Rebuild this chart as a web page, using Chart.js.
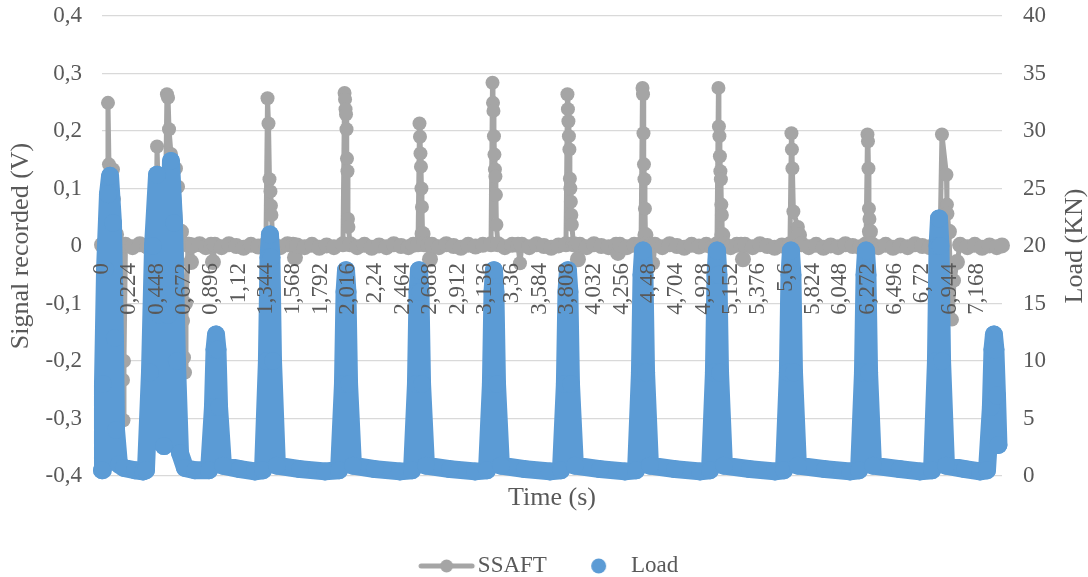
<!DOCTYPE html>
<html>
<head>
<meta charset="utf-8">
<script src="https://cdn.jsdelivr.net/npm/chart.js@4.4.1/dist/chart.umd.min.js"></script>
<style>
  html, body { margin: 0; padding: 0; background: #fff; }
</style>
</head>
<body>
<canvas id="myChart" width="1088" height="577"></canvas>
<script>
'use strict'
// time (s) and signal (V)
var ssaftSamples = [
    [0.000, 0.002], [0.020, -0.002], [0.033, 0.001],
    [0.041, 0.010], [0.049, 0.249], [0.057, 0.142], [0.066, 0.063], [0.074, 0.112], [0.082, 0.091], [0.090, 0.133], [0.098, 0.082], [0.115, 0.020],
    [0.135, -0.002], [0.160, 0.000], [0.172, -0.233], [0.176, -0.303], [0.180, -0.200], [0.192, 0.002],
    [0.250, -0.002], [0.310, 0.003], [0.370, -0.001], [0.420, 0.003],
    [0.442, 0.008], [0.451, 0.173], [0.459, 0.100], [0.475, 0.010], [0.495, -0.002],
    [0.516, 0.012], [0.532, 0.264], [0.541, 0.258], [0.549, 0.203], [0.565, 0.160], [0.606, 0.135], [0.623, 0.103], [0.647, 0.025],
    [0.664, -0.130], [0.672, -0.194], [0.680, -0.220], [0.688, -0.100], [0.705, 0.002],
    [0.713, 0.002], [0.729, -0.028], [0.745, 0.001], [0.800, 0.003], [0.850, -0.002],
    [0.893, 0.002], [0.909, -0.028], [0.925, 0.002], [0.980, -0.002], [1.040, 0.003], [1.100, 0.000], [1.160, -0.003], [1.220, 0.002], [1.280, -0.001],
    [1.343, 0.003], [1.356, 0.257], [1.364, 0.213], [1.372, 0.116], [1.380, 0.095], [1.384, 0.070], [1.388, 0.054], [1.401, 0.004],
    [1.460, -0.002], [1.520, 0.003], [1.565, 0.002], [1.581, -0.020], [1.597, 0.001], [1.660, -0.002], [1.720, 0.002], [1.780, -0.003], [1.840, 0.001], [1.900, -0.002],
    [1.974, 0.003], [1.987, 0.266], [1.991, 0.255], [1.995, 0.238], [1.999, 0.229], [2.003, 0.203], [2.007, 0.152], [2.011, 0.130], [2.015, 0.047], [2.019, 0.033], [2.032, 0.003],
    [2.090, -0.002], [2.150, 0.002], [2.210, -0.003], [2.270, 0.001], [2.330, -0.002], [2.390, 0.003], [2.450, 0.000], [2.510, -0.002], [2.550, 0.002],
    [2.589, 0.003], [2.601, 0.213], [2.605, 0.190], [2.609, 0.161], [2.613, 0.138], [2.617, 0.100], [2.621, 0.068], [2.626, 0.021], [2.638, 0.003],
    [2.671, 0.002], [2.687, -0.023], [2.703, 0.002], [2.760, -0.002], [2.820, 0.003], [2.880, 0.000], [2.940, -0.003], [3.000, 0.002], [3.060, -0.001], [3.120, 0.002],
    [3.187, 0.003], [3.199, 0.284], [3.203, 0.249], [3.207, 0.235], [3.211, 0.191], [3.215, 0.159], [3.219, 0.133], [3.223, 0.121], [3.227, 0.089], [3.231, 0.037], [3.244, 0.003],
    [3.300, -0.002], [3.360, 0.002], [3.408, 0.002], [3.424, -0.030], [3.440, 0.002], [3.500, -0.002], [3.560, 0.003], [3.620, 0.000], [3.680, -0.003], [3.740, 0.001],
    [3.801, 0.003], [3.813, 0.264], [3.817, 0.238], [3.821, 0.217], [3.825, 0.191], [3.829, 0.168], [3.833, 0.117], [3.837, 0.100], [3.841, 0.077], [3.845, 0.054], [3.849, 0.037], [3.862, 0.003],
    [3.883, 0.002], [3.899, -0.023], [3.915, 0.002], [3.970, -0.002], [4.030, 0.003], [4.090, 0.000], [4.150, -0.002], [4.211, 0.002], [4.227, -0.012], [4.243, 0.002], [4.300, -0.002], [4.360, 0.002],
    [4.416, 0.003], [4.428, 0.275], [4.432, 0.264], [4.436, 0.196], [4.440, 0.142], [4.444, 0.116], [4.448, 0.065], [4.452, 0.019], [4.465, 0.003],
    [4.498, 0.002], [4.514, -0.030], [4.530, 0.002], [4.590, -0.002], [4.650, 0.003], [4.710, 0.000], [4.770, -0.003], [4.830, 0.002], [4.890, -0.001], [4.950, 0.002], [5.000, -0.002],
    [5.038, 0.003], [5.050, 0.275], [5.054, 0.208], [5.058, 0.191], [5.062, 0.156], [5.066, 0.130], [5.070, 0.116], [5.074, 0.072], [5.078, 0.054], [5.082, 0.019], [5.095, 0.003],
    [5.150, -0.002], [5.200, 0.002], [5.235, 0.002], [5.251, -0.023], [5.267, 0.002], [5.330, -0.002], [5.390, 0.003], [5.450, 0.000], [5.510, -0.003], [5.570, 0.001],
    [5.636, 0.003], [5.648, 0.196], [5.652, 0.168], [5.656, 0.135], [5.664, 0.060], [5.701, 0.033], [5.710, 0.019], [5.730, 0.003],
    [5.790, -0.002], [5.850, 0.002], [5.910, -0.003], [5.970, 0.001], [6.030, -0.002], [6.090, 0.003], [6.150, 0.000], [6.210, -0.002],
    [6.259, 0.003], [6.271, 0.194], [6.275, 0.182], [6.279, 0.135], [6.283, 0.065], [6.287, 0.047], [6.291, 0.025], [6.304, 0.003],
    [6.360, -0.002], [6.420, 0.002], [6.480, -0.003], [6.540, 0.001], [6.600, -0.002], [6.660, 0.003], [6.720, 0.000], [6.780, -0.002], [6.830, 0.002],
    [6.865, 0.003], [6.881, 0.194], [6.918, 0.124], [6.922, 0.072], [6.926, 0.056], [6.938, 0.025], [6.963, -0.128], [6.980, -0.060], [7.004, -0.028], [7.030, 0.002],
    [7.090, -0.002], [7.150, 0.002], [7.210, -0.003], [7.270, 0.001], [7.330, -0.002], [7.373, 0.001]
];

// time (s) and load (KN)
var loadSamples = [
    [0.000, 0.5], [0.008, 8], [0.025, 18], [0.049, 24.5], [0.066, 26.1], [0.090, 22], [0.106, 12], [0.115, 4], [0.139, 1.0], [0.180, 0.7],
    [0.270, 0.5], [0.336, 0.4],
    [0.360, 0.5], [0.393, 9], [0.418, 20], [0.451, 26.2], [0.475, 14], [0.508, 2.6], [0.541, 14], [0.565, 27.4], [0.590, 22], [0.614, 10], [0.639, 2], [0.680, 0.7],
    [0.762, 0.5],
    [0.877, 0.5], [0.909, 6], [0.922, 11], [0.934, 12.3], [0.946, 11], [0.959, 6], [0.991, 0.9],
    [1.130, 0.6], [1.253, 0.4],
    [1.319, 0.5], [1.351, 10], [1.364, 19], [1.376, 21.0], [1.388, 19], [1.401, 10], [1.433, 0.9],
    [1.622, 0.6], [1.827, 0.4],
    [1.942, 0.5], [1.974, 8], [1.987, 16], [1.999, 17.9], [2.011, 16], [2.024, 8], [2.056, 0.9],
    [2.236, 0.6], [2.441, 0.4],
    [2.540, 0.5], [2.572, 8], [2.585, 16], [2.597, 17.9], [2.609, 16], [2.622, 8], [2.654, 0.9],
    [2.851, 0.6], [3.056, 0.4],
    [3.154, 0.5], [3.186, 8], [3.199, 16], [3.211, 17.9], [3.223, 16], [3.236, 8], [3.268, 0.9],
    [3.465, 0.6], [3.670, 0.4],
    [3.760, 0.5], [3.792, 8], [3.805, 16], [3.817, 17.9], [3.829, 16], [3.842, 8], [3.874, 0.9],
    [4.080, 0.6], [4.284, 0.4],
    [4.375, 0.5], [4.407, 9], [4.420, 17.5], [4.432, 19.6], [4.444, 17.5], [4.457, 9], [4.489, 0.9],
    [4.694, 0.6], [4.899, 0.4],
    [4.981, 0.5], [5.013, 9], [5.026, 17.5], [5.038, 19.6], [5.050, 17.5], [5.063, 9], [5.095, 0.9],
    [5.308, 0.6], [5.513, 0.4],
    [5.587, 0.5], [5.619, 9], [5.632, 17.5], [5.644, 19.6], [5.656, 17.5], [5.669, 9], [5.701, 0.9],
    [5.923, 0.6], [6.128, 0.4],
    [6.202, 0.5], [6.234, 9], [6.247, 17.5], [6.259, 19.6], [6.271, 17.5], [6.284, 9], [6.316, 0.9],
    [6.537, 0.6], [6.701, 0.4],
    [6.800, 0.5], [6.832, 10], [6.845, 20], [6.857, 22.4], [6.869, 20], [6.882, 10], [6.914, 0.9],
    [7.070, 0.6], [7.193, 0.4],
    [7.250, 0.5], [7.282, 6], [7.295, 11], [7.307, 12.3], [7.319, 11], [7.332, 7], [7.344, 2.7]
];

var timeTicks = [0, 0.224, 0.448, 0.672, 0.896, 1.12, 1.344, 1.568, 1.792, 2.016, 2.24, 2.464, 2.688, 2.912,
    3.136, 3.36, 3.584, 3.808, 4.032, 4.256, 4.48, 4.704, 4.928, 5.152, 5.376, 5.6, 5.824, 6.048, 6.272,
    6.496, 6.72, 6.944, 7.168];
var timeMax = 7.373;

var gray = '#a5a5a5';
var blue = '#5b9bd5';
var textGray = '#595959';
var clear = 'rgba(0,0,0,0)';
var serif = "'Liberation Serif', 'Times New Roman', serif";

Chart.defaults.font.family = serif;
Chart.defaults.color = textGray;

function comma(v) {
    return String(Math.round(v * 1000) / 1000).replace('.', ',');
}

// little pictures for the legend
function legendMark(withLine, dotX, r, col) {
    var c = document.createElement('canvas');
    c.width = 90;
    c.height = 18;
    var g = c.getContext('2d');
    g.fillStyle = col;
    g.strokeStyle = col;
    if (withLine) {
        g.lineWidth = 5;
        g.lineCap = 'round';
        g.beginPath();
        g.moveTo(34, 9);
        g.lineTo(85, 9);
        g.stroke();
    }
    g.beginPath();
    g.arc(dotX, 9, r, 0, Math.PI * 2);
    g.fill();
    return c;
}
var ssaftMark = legendMark(true, 59.5, 6.5, gray);
var loadMark = legendMark(false, 58.5, 7.5, blue);

var rightTitle = {
    id: 'rightTitle',
    afterDraw: function (chart) {
        var ctx = chart.ctx;
        var a = chart.chartArea;
        ctx.save();
        ctx.fillStyle = textGray;
        ctx.font = '26px ' + serif;
        ctx.textAlign = 'center';
        ctx.textBaseline = 'middle';
        ctx.translate(chart.width - 13, (a.top + a.bottom) / 2);
        ctx.rotate(-Math.PI / 2);
        ctx.fillText('Load (KN)', 0, 0);
        ctx.restore();
    }
};

var ctx = document.getElementById('myChart').getContext('2d');

var chart = new Chart(ctx, {
    type: 'line',
    data: {
        datasets: [{
            label: 'SSAFT',
            data: ssaftSamples.map(function (p) { return { x: p[0], y: p[1] }; }),
            xAxisID: 'x',
            yAxisID: 'y',
            order: 1,
            borderColor: gray,
            backgroundColor: gray,
            borderWidth: 5,
            borderCapStyle: 'round',
            borderJoinStyle: 'round',
            pointRadius: function (c) { return Math.abs(c.raw.y) < 0.03 ? 8 : 7; },
            pointBorderWidth: 0,
            pointBackgroundColor: gray,
            tension: 0,
            clip: false
        }, {
            label: 'Load',
            data: loadSamples.map(function (p) { return { x: p[0], y: p[1] }; }),
            xAxisID: 'x',
            yAxisID: 'y1',
            order: 0,
            borderColor: blue,
            backgroundColor: blue,
            borderWidth: 18,
            borderCapStyle: 'round',
            borderJoinStyle: 'round',
            pointRadius: 9,
            pointBorderWidth: 0,
            pointBackgroundColor: blue,
            tension: 0,
            clip: false
        }]
    },
    options: {
        responsive: false,
        animation: false,
        events: [],
        layout: { padding: { top: 16, right: 12, bottom: -10.5, left: 0 } },
        scales: {
            x: {
                type: 'linear',
                position: 'bottom',
                min: 0,
                max: timeMax,
                grid: { display: false },
                border: { display: false },
                ticks: { display: false },
                title: {
                    display: true,
                    text: 'Time (s)',
                    font: { size: 26 },
                    color: textGray,
                    padding: { top: 0, bottom: 37 }
                },
                afterFit: function (s) { s.height = 74.5; }
            },
            xTicks: {
                type: 'linear',
                axis: 'x',
                position: { y: 0 },
                min: 0,
                max: timeMax,
                grid: { display: false, drawTicks: false },
                border: { display: false },
                afterBuildTicks: function (s) {
                    s.ticks = timeTicks.map(function (v) { return { value: v }; });
                },
                ticks: {
                    z: 1,
                    autoSkip: false,
                    minRotation: 90,
                    maxRotation: 90,
                    padding: 17,
                    font: { size: 23 },
                    color: textGray,
                    callback: function (v) { return comma(v); }
                }
            },
            y: {
                position: 'left',
                min: -0.4,
                max: 0.4,
                grid: { color: '#d9d9d9', lineWidth: 1.3, drawTicks: true, tickLength: 20, tickColor: clear },
                border: { display: false },
                ticks: {
                    stepSize: 0.1,
                    padding: 0,
                    font: { size: 23 },
                    color: textGray,
                    callback: function (v) { return comma(v); }
                },
                title: {
                    display: true,
                    text: 'Signal recorded (V)',
                    font: { size: 26 },
                    color: textGray,
                    padding: { top: 6, bottom: 0 }
                },
                afterFit: function (s) { s.width = 102; }
            },
            y1: {
                position: 'right',
                min: 0,
                max: 40,
                grid: { display: true, color: clear, drawOnChartArea: false, drawTicks: true, tickLength: 21, tickColor: clear },
                border: { display: false },
                ticks: {
                    stepSize: 5,
                    padding: 0,
                    font: { size: 23 },
                    color: textGray
                },
                afterFit: function (s) { s.width = 74; }
            }
        },
        plugins: {
            tooltip: { enabled: false },
            legend: {
                position: 'bottom',
                labels: {
                    usePointStyle: true,
                    pointStyleWidth: 68.5,
                    padding: 4,
                    font: { size: 23 },
                    color: textGray,
                    generateLabels: function () {
                        return [
                            { text: 'SSAFT', pointStyle: ssaftMark, fillStyle: gray, strokeStyle: gray, lineWidth: 0, fontColor: textGray, hidden: false, datasetIndex: 0 },
                            { text: 'Load', pointStyle: loadMark, fillStyle: blue, strokeStyle: blue, lineWidth: 0, fontColor: textGray, hidden: false, datasetIndex: 1 }
                        ];
                    }
                }
            }
        }
    },
    plugins: [rightTitle]
});
</script>
</body>
</html>
